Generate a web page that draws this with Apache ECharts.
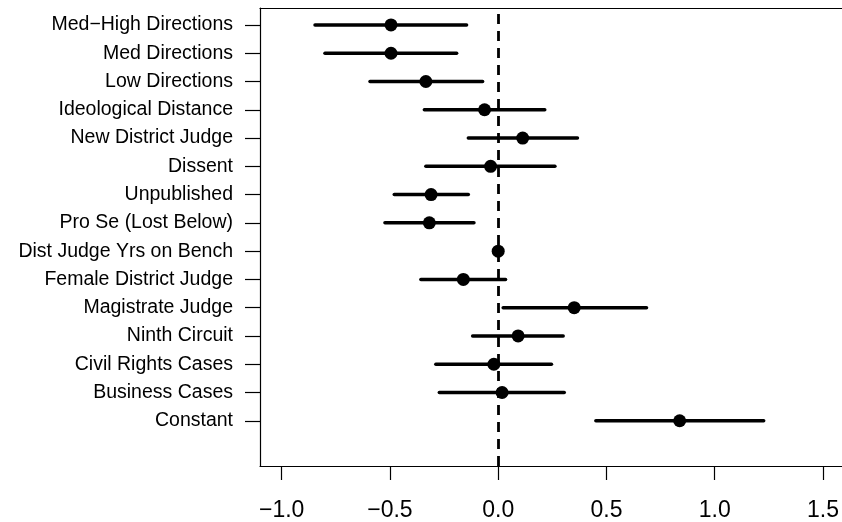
<!DOCTYPE html>
<html>
<head>
<meta charset="utf-8">
<script src="https://cdn.jsdelivr.net/npm/echarts@6/dist/echarts.min.js"></script>
<style>
  html, body { margin: 0; padding: 0; background: #fff; }
  #myChart { width: 842px; height: 522px; }
</style>
</head>
<body>
<div id="myChart"></div>
<script>
// 变量名 (top to bottom)
const labels = [
  'Med\u2212High Directions', 'Med Directions', 'Low Directions', 'Ideological Distance',
  'New District Judge', 'Dissent', 'Unpublished', 'Pro Se (Lost Below)',
  'Dist Judge Yrs on Bench', 'Female District Judge', 'Magistrate Judge', 'Ninth Circuit',
  'Civil Rights Cases', 'Business Cases', 'Constant'
]
const estimate = [-0.495, -0.495, -0.334, -0.063, 0.113, -0.035, -0.31, -0.318, 0.0, -0.161, 0.351, 0.092, -0.02, 0.018, 0.838]
const lower = [-0.846, -0.80, -0.592, -0.341, -0.138, -0.334, -0.48, -0.523, -0.008, -0.357, 0.023, -0.118, -0.288, -0.272, 0.451]
const upper = [-0.146, -0.192, -0.072, 0.215, 0.366, 0.262, -0.138, -0.112, 0.008, 0.034, 0.685, 0.30, 0.246, 0.305, 1.226]
const xTicks = [-1.0, -0.5, 0.0, 0.5, 1.0, 1.5]

const n = labels.length
const yPos = labels.map((l, i) => n - i) // Constant = 1, top row = 15

const font = 'Liberation Sans, Arial, Helvetica, sans-serif'
const fmtNum = v => v.toFixed(1).replace('-', '\u2212')

const chart = echarts.init(document.getElementById('myChart'), null, { renderer: 'canvas' })

const options = {
  backgroundColor: '#fff',
  animation: false,
  grid: { left: 260, right: 0, top: 8, bottom: 56, containLabel: false },
  xAxis: [{
    type: 'value',
    position: 'bottom',
    min: -1.1,
    max: 1.586,
    splitLine: { show: false },
    axisLine: { show: true, onZero: false, lineStyle: { color: '#000', width: 1.2 } },
    axisTick: { show: true, length: 14, customValues: xTicks, lineStyle: { color: '#000', width: 1.2 } },
    axisLabel: {
      customValues: xTicks,
      margin: 33,
      color: '#000',
      fontSize: 23,
      fontFamily: font,
      formatter: v => fmtNum(v)
    }
  }, {
    // top border
    type: 'value',
    position: 'top',
    min: -1.1,
    max: 1.586,
    splitLine: { show: false },
    axisLine: { show: true, onZero: false, lineStyle: { color: '#000', width: 1.2 } },
    axisTick: { show: false },
    axisLabel: { show: false }
  }],
  yAxis: {
    type: 'value',
    min: -0.6,
    max: 15.6,
    splitLine: { show: false },
    axisLine: { show: true, onZero: false, lineStyle: { color: '#000', width: 1.2 } },
    axisTick: { show: true, length: 15, customValues: yPos, lineStyle: { color: '#000', width: 1.2 } },
    axisLabel: {
      customValues: yPos,
      margin: 27,
      color: '#000',
      fontSize: 19.5,
      fontFamily: font,
      formatter: v => labels[n - Math.round(v)] || ''
    }
  },
  series: [{
    // 置信区间
    type: 'custom',
    renderItem: (params, api) => {
      const a = api.coord([api.value(0), api.value(2)])
      const b = api.coord([api.value(1), api.value(2)])
      return {
        type: 'line',
        shape: { x1: a[0], y1: a[1], x2: b[0], y2: b[1] },
        style: { stroke: '#000', lineWidth: 3.5, lineCap: 'round' }
      }
    },
    data: labels.map((l, i) => [lower[i], upper[i], yPos[i]]),
    z: 2
  }, {
    type: 'scatter',
    symbol: 'circle',
    symbolSize: 13,
    itemStyle: { color: '#000', opacity: 1 },
    data: labels.map((l, i) => [estimate[i], yPos[i]]),
    markLine: {
      silent: true,
      symbol: 'none',
      label: { show: false },
      lineStyle: { color: '#000', width: 2.8, type: [10, 7] },
      data: [{ xAxis: 0 }]
    },
    z: 3
  }]
}

chart.setOption(options)
</script>
</body>
</html>
